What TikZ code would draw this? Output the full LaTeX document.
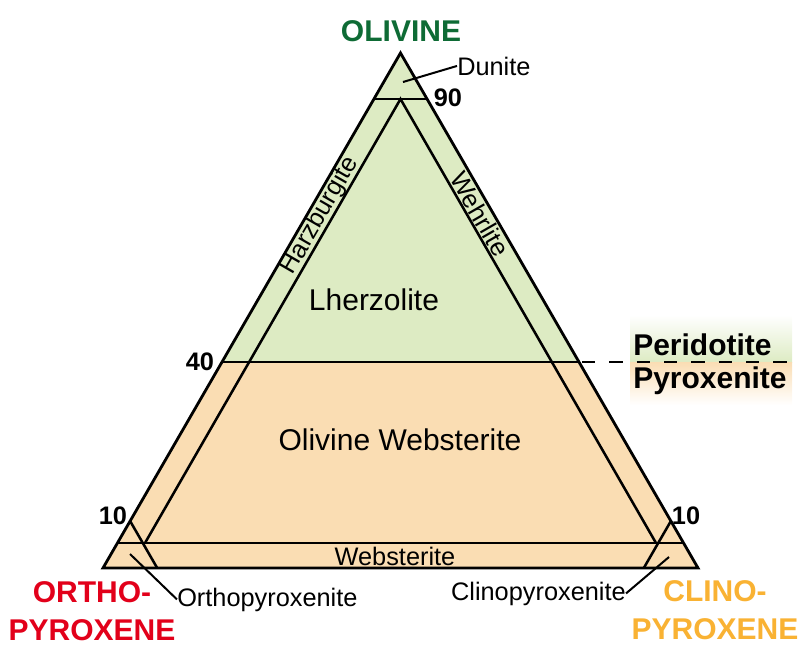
\documentclass[tikz,border=0pt]{standalone}
\usepackage{fontspec}
\setmainfont{Liberation Sans}
\usetikzlibrary{calc,positioning}
\definecolor{olgreen}{RGB}{221,235,195}
\definecolor{pxorange}{RGB}{250,221,179}
\definecolor{oltext}{RGB}{14,107,53}
\definecolor{opxtext}{RGB}{226,0,26}
\definecolor{cpxtext}{RGB}{249,178,51}
\tikzset{
  fieldname/.style={font=\fontsize{22.5}{27}\selectfont, inner sep=0pt},
  minorname/.style={font=\fontsize{19}{23}\selectfont, inner sep=0pt},
  endmember/.style={font=\fontsize{22.5}{28}\selectfont\bfseries, inner sep=0pt, align=center},
  ticknum/.style={font=\fontsize{19}{23}\selectfont\bfseries, inner sep=0pt},
  fieldline/.style={line width=1.9pt},
  leader/.style={line width=1.5pt},
}

\begin{document}
\begin{tikzpicture}[x=0.75pt, y=-0.75pt]
    \useasboundingbox (0,0) rectangle (800,644);
    % 三角形顶点与 40% 分界点
    \coordinate (A) at (400.5,53);
    \coordinate (B) at (103,568);
    \coordinate (C) at (698,568);
    \coordinate (L40) at (221.9,362);
    \coordinate (R40) at (579.1,362);
    % 辉石岩区（橙色）与橄榄岩区（绿色）
    \fill[pxorange] (B) -- (C) -- (R40) -- (L40) -- cycle;
    \fill[olgreen] (L40) -- (R40) -- (A) -- cycle;
    % 右侧图例的渐变底色
    \shade[top color=white, bottom color=olgreen] (630,315) rectangle (792,362);
    \shade[top color=pxorange, bottom color=white] (630,362) rectangle (792,405);
    % 40% 分界线及其虚线延伸
    \draw[fieldline] (L40) -- (R40);
    \draw[fieldline, dash pattern=on 10pt off 10.5pt] (582,362) -- (792,362);
    % 90% 线（纯橄榄岩）
    \draw[fieldline] (373.8,99) -- (427.2,99);
    % 二辉橄榄岩内三角
    \draw[fieldline] (145,543) -- (400.5,99) -- (656,543);
    % 二辉岩线
    \draw[fieldline] (117.4,543) -- (683.6,543);
    % 两个底角的 90% 辉石线
    \draw[fieldline] (130.1,521) -- (157.2,568);
    \draw[fieldline] (670.9,521) -- (643.8,568);
    % 外三角
    \draw[line width=2.1pt, line join=miter] (A) -- (B) -- (C) -- cycle;
    % 端元
    \node[endmember, text=oltext] (ol) at (401,31) {OLIVINE};
    \node[endmember, text=opxtext] (opx) at (92,611) {ORTHO-\\PYROXENE};
    \node[endmember, text=cpxtext] (cpx) at (715,610) {CLINO-\\PYROXENE};
    % 刻度数字
    \node[ticknum] (t90) at (448,98) {90};
    \node[ticknum] (t40) at (200,362) {40};
    \node[ticknum] (t10l) at (113,516) {10};
    \node[ticknum] (t10r) at (686,516) {10};
    % 区域名称
    \node[fieldname] (lherz) at (374,300) {Lherzolite};
    \node[fieldname] (olweb) at (400,440) {Olivine Websterite};
    \node[minorname, rotate=60] (harz) at (320,216) {Harzburgite};
    \node[minorname, rotate=-60] (wehr) at (480,214) {Wehrlite};
    \node[minorname, anchor=base] (web) at (395,565) {Websterite};
    % 带引线的小区域
    \coordinate (dunpt) at (403,82);
    \node[minorname, anchor=base west] (dun) at (457,75) {Dunite};
    \draw[leader] (dunpt) -- (dun.west);
    \coordinate (opxpt) at (130,554);
    \node[minorname, anchor=base west] (opxite) at (177,606) {Orthopyroxenite};
    \draw[leader] (opxpt) -- (opxite.west);
    \coordinate (cpxpt) at (669,557);
    \node[minorname, anchor=base east] (cpxite) at (626,600) {Clinopyroxenite};
    \draw[leader] (cpxpt) -- (cpxite.east);
    % 图例
    \node[endmember, anchor=base west] (perid) at (633,355) {Peridotite};
    \node[endmember, anchor=base west] (pyrox) at (633,388) {Pyroxenite};
\end{tikzpicture}
\end{document}
